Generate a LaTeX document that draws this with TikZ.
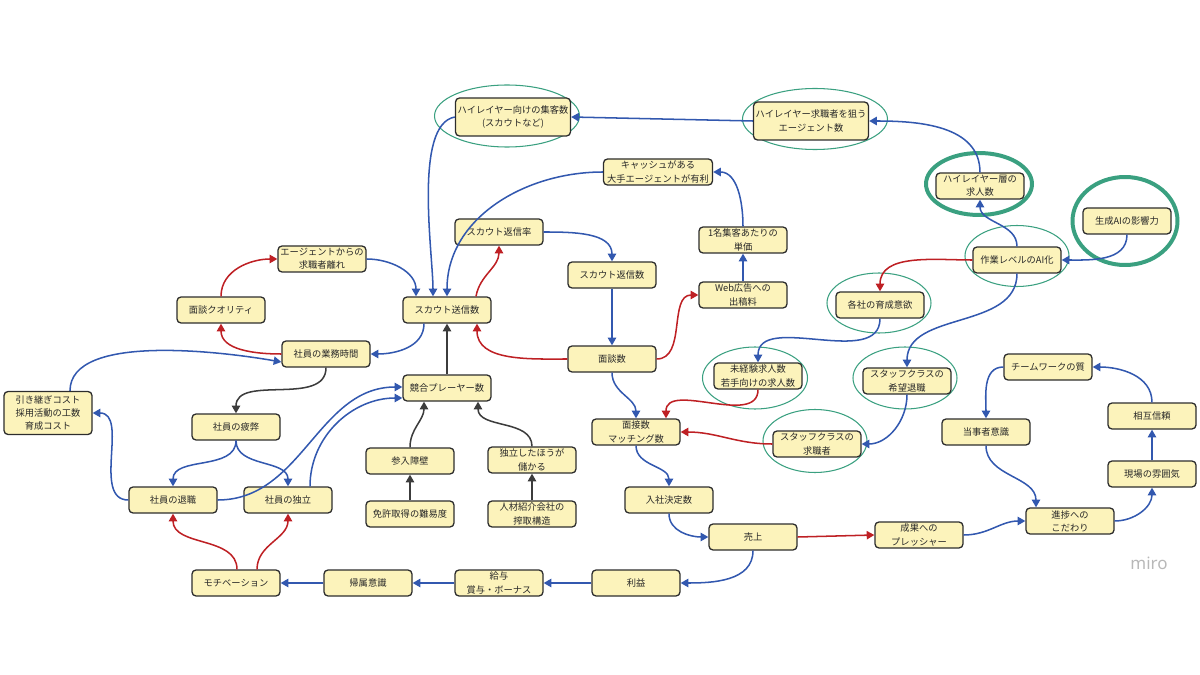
\documentclass[tikz,border=0pt]{standalone}
\usepackage{fontspec}
\newfontfamily\jp{Noto Sans CJK JP}
\newfontfamily\brandfont{Noto Sans}
\usetikzlibrary{positioning, shapes.geometric, arrows.meta, calc}

\definecolor{boxfill}{RGB}{252,243,187}
\definecolor{boxline}{RGB}{45,45,45}
\definecolor{plus}{RGB}{50,88,175}
\definecolor{minus}{RGB}{190,32,36}
\definecolor{base}{RGB}{60,60,60}
\definecolor{ringc}{RGB}{58,160,128}
\definecolor{txt}{RGB}{40,40,40}

\begin{document}
\begin{tikzpicture}[
    % GLOBAL CFG (1 unit = 1 px of the board)
    x=0.3mm, y=0.3mm,
    >={Triangle[length=2.3mm, width=2.5mm]},
    % Styles
    factor/.style={% For the yellow cards
        rectangle,
        rounded corners=1.2mm,
        draw=boxline,
        line width=1.1pt,
        fill=boxfill,
        minimum width=26.4mm,
        minimum height=7.8mm,
        inner sep=1pt,
        align=center,
        text=txt,
        font=\jp\fontsize{7.9pt}{11.3pt}\selectfont,
        },
    wide/.style={% For the bigger cards
        factor,
        minimum width=34.5mm,
        minimum height=11.4mm,
        },
    ring/.style={% Green marks round some cards
        ellipse,
        draw=ringc,
        line width=0.9pt,
        inner sep=0pt,
        },
    boldring/.style={% Thick green marks
        ring,
        line width=3.4pt,
        },
    ArrowB/.style={% Blue links
        ->,
        draw=plus,
        line width=1.3pt,
        },
    ArrowR/.style={% Red links
        ->,
        draw=minus,
        line width=1.3pt,
        },
    ArrowK/.style={% Dark links
        ->,
        draw=base,
        line width=1.3pt,
        },
    ]
\useasboundingbox (0,0) rectangle (1200,-675);

% Green rings, drawn first
\node [ring, minimum width=43.5mm, minimum height=18.6mm] (rhlcol) at (507,-116) {};
\node [ring, minimum width=43.5mm, minimum height=18.3mm] (rhlag) at (815,-119) {};
\node [boldring, minimum width=31.8mm, minimum height=18.6mm] (rhljob) at (979,-184) {};
\node [boldring, minimum width=31.5mm, minimum height=26.4mm] (rgenai) at (1125,-221) {};
\node [ring, minimum width=31.2mm, minimum height=18.3mm] (rai) at (1017,-256) {};
\node [ring, minimum width=31.2mm, minimum height=18mm] (rtrain) at (879,-303) {};
\node [ring, minimum width=31.2mm, minimum height=18.6mm] (rquit) at (905,-378) {};
\node [ring, minimum width=31.2mm, minimum height=18.9mm] (rstaff) at (815,-441) {};
\node [ring, minimum width=31.5mm, minimum height=18.6mm] (ryoung) at (755,-378) {};

% Left part: staff and scouting
\node [factor] (agent) at (322,-259) {エージェントからの\\求職者離れ};
\node [factor] (quality) at (221,-310) {面談クオリティ};
\node [factor] (scout) at (447,-310) {スカウト送信数};
\node [factor] (worktime) at (326,-354) {社員の業務時間};
\node [factor] (rival) at (447,-388) {競合プレーヤー数};
\node [factor, minimum height=12.9mm] (handover) at (48,-413) {引き継ぎコスト\\採用活動の工数\\育成コスト};
\node [factor] (tired) at (236,-427) {社員の疲弊};
\node [factor] (retire) at (173,-500) {社員の退職};
\node [factor] (indep) at (288,-500) {社員の独立};
\node [factor] (motiv) at (236,-583) {モチベーション};
\node [factor] (belong) at (368,-583) {帰属意識};
\node [factor] (entry) at (410,-461) {参入障壁};
\node [factor] (license) at (410,-514) {免許取得の難易度};
\node [factor] (gain) at (532,-460) {独立したほうが\\儲かる};
\node [factor] (exploit) at (532,-514) {人材紹介会社の\\搾取構造};
\node [factor] (salary) at (499,-583) {給与\\賞与・ボーナス};
\node [factor] (profit) at (636,-583) {利益};

% Middle part: funnel
\node [factor] (sales) at (753,-537) {売上};
\node [factor] (hire) at (669,-500) {入社決定数};
\node [factor] (interview) at (636,-432) {面接数\\マッチング数};
\node [factor] (meeting) at (612,-359) {面談数};
\node [factor] (reply) at (612,-275) {スカウト返信数};
\node [factor] (rate) at (499,-232) {スカウト返信率};
\node [factor] (web) at (743,-295) {Web広告への\\出稿料};
\node [factor] (unit) at (743,-240) {1名集客あたりの\\単価};
\node [factor, minimum width=32.7mm] (cash) at (658,-172) {キャッシュがある\\大手エージェントが有利};
\node [wide] (hlcol) at (513,-117) {ハイレイヤー向けの集客数\\(スカウトなど)};
\node [wide] (hlag) at (811,-121) {ハイレイヤー求職者を狙う\\エージェント数};

% Right part: AI and team
\node [factor] (hljob) at (980,-186) {ハイレイヤー層の\\求人数};
\node [factor] (genai) at (1127,-221) {生成AIの影響力};
\node [factor] (ai) at (1017,-260) {作業レベルのAI化};
\node [factor] (train) at (880,-305) {各社の育成意欲};
\node [factor] (quit) at (907,-381) {スタッフクラスの\\希望退職};
\node [factor] (staff) at (817,-444) {スタッフクラスの\\求職者};
\node [factor] (young) at (758,-376) {未経験求人数\\若手向けの求人数};
\node [factor] (team) at (1048,-367) {チームワークの質};
\node [factor] (owner) at (986,-432) {当事者意識};
\node [factor] (trust) at (1152,-416) {相互信頼};
\node [factor] (mood) at (1152,-474) {現場の雰囲気};
\node [factor] (prog) at (1070,-521) {進捗への\\こだわり};
\node [factor] (press) at (919,-535) {成果への\\プレッシャー};

\node [font=\brandfont\fontsize{14.5pt}{14.5pt}\selectfont, text=black!28] (brand) at (1149,-563) {miro};

% Links into scouting
\draw [ArrowR] (quality.north) to[out=90, in=180] (agent.west);
\draw [ArrowB] (agent.east) to[out=0, in=90] ($(scout.north)+(-31,0)$);
\draw [ArrowB] (hlcol.west) to[out=190, in=90, looseness=0.6] ($(scout.north)+(-14,0)$);
\draw [ArrowB] (cash.west) to[out=180, in=90] (scout.north);
\draw [ArrowR] ($(scout.north)+(29,0)$) to[out=80, in=-90] (rate.south);
\draw [ArrowB] (rate.east) to[out=0, in=90] (reply.north);
\draw [ArrowB] (reply) -- (meeting);
\draw [ArrowR] (meeting.west) to[out=180, in=-90] ($(scout.south)+(30,0)$);
\draw [ArrowR] (meeting.east) to[out=0, in=180] (web.west);
\draw [ArrowB] (web) -- (unit);
\draw [ArrowB] (unit.north) to[out=90, in=0] (cash.east);
\draw [ArrowB] (hlag.west) -- (hlcol.east);
\draw [ArrowB] (hljob.north) to[out=90, in=0] (hlag.east);

% AI side
\draw [ArrowB] (ai.north) to[out=90, in=-90] (hljob.south);
\draw [ArrowB] (genai.south) to[out=-90, in=0] (ai.east);
\draw [ArrowR] (ai.west) to[out=180, in=90] (train.north);
\draw [ArrowB] (train.south) to[out=-90, in=90] (young.north);
\draw [ArrowB] (ai.south) to[out=-90, in=90] (quit.north);
\draw [ArrowB] (quit.south) to[out=-90, in=0] (staff.east);
\draw [ArrowR] (staff.west) to[out=180, in=0] (interview.east);
\draw [ArrowR] (young.south) to[out=-90, in=90] ($(interview.north)+(30,0)$);

% Funnel
\draw [ArrowB] (meeting.south) to[out=-90, in=90] (interview.north);
\draw [ArrowB] (interview.south) to[out=-90, in=90] (hire.north);
\draw [ArrowB] (hire.south) to[out=-90, in=180] (sales.west);
\draw [ArrowR] (sales.east) -- (press.west);
\draw [ArrowB] (press.east) to[out=0, in=180] (prog.west);
\draw [ArrowB] (prog.east) to[out=0, in=-90] (mood.south);
\draw [ArrowB] (mood) -- (trust);
\draw [ArrowB] (trust.north) to[out=90, in=0] (team.east);
\draw [ArrowB] (team.west) to[out=180, in=90] (owner.north);
\draw [ArrowB] (owner.south) to[out=-90, in=90] ($(prog.north)+(-34,0)$);
\draw [ArrowB] (sales.south) to[out=-90, in=0] (profit.east);
\draw [ArrowB] (profit) -- (salary);
\draw [ArrowB] (salary) -- (belong);
\draw [ArrowB] (belong) -- (motiv);

% Staff loop
\draw [ArrowR] ($(motiv.north)+(1,0)$) to[out=90, in=-90] (retire.south);
\draw [ArrowR] ($(motiv.north)+(21,0)$) to[out=90, in=-90] (indep.south);
\draw [ArrowB] (retire.west) to[out=180, in=0] (handover.east);
\draw [ArrowB] ($(handover.north)+(22,0)$) to[out=90, in=170, looseness=0.7] ($(worktime.west)+(0,-8)$);
\draw [ArrowR] (worktime.west) to[out=180, in=-90] (quality.south);
\draw [ArrowB] ($(scout.south)+(-23,0)$) to[out=-90, in=0] (worktime.east);
\draw [ArrowK] (worktime.south) to[out=-90, in=90] (tired.north);
\draw [ArrowB] (tired.south) to[out=-90, in=90] (retire.north);
\draw [ArrowB] (tired.south) to[out=-90, in=90] (indep.north);
\draw [ArrowB] (retire.east) to[out=0, in=180] ($(rival.west)+(0,1)$);
\draw [ArrowB] ($(indep.north)+(22,0)$) to[out=90, in=180] ($(rival.west)+(0,-10)$);
\draw [ArrowK] (rival) -- (scout);
\draw [ArrowK] (entry.north) to[out=90, in=-90] ($(rival.south)+(-23,0)$);
\draw [ArrowK] (gain.north) to[out=90, in=-90] ($(rival.south)+(31,0)$);
\draw [ArrowK] (license) -- (entry);
\draw [ArrowK] (exploit) -- (gain);

\end{tikzpicture}
\end{document}
